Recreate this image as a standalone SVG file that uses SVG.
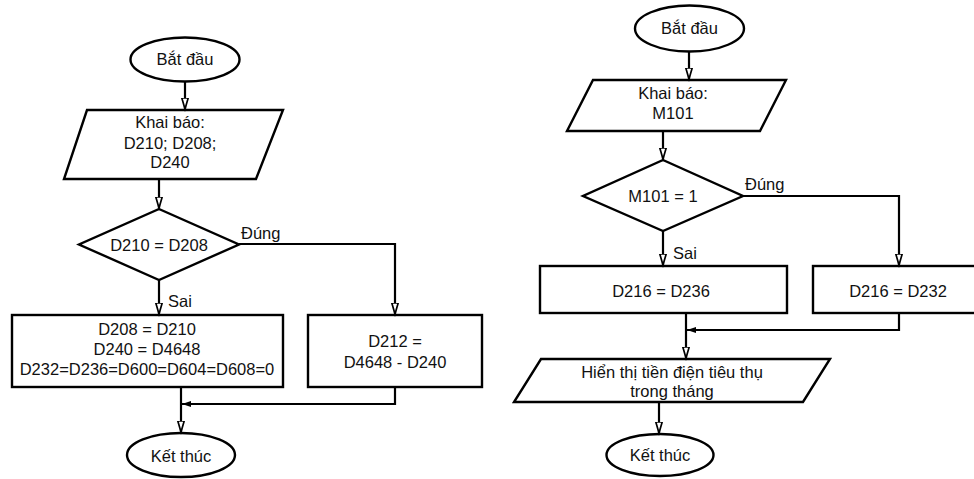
<svg xmlns="http://www.w3.org/2000/svg" width="974" height="479" viewBox="0 0 974 479">
  <style>
    .shape { fill: #ffffff; stroke: #000000; stroke-width: 2.4; }
    .wire { fill: none; stroke: #000000; stroke-width: 2.2; }
    .down { marker-end: url(#openHead); }
    .join { marker-end: url(#solidHead); }
    text { font-family: "Liberation Sans", Arial, sans-serif; font-size: 16.5px; fill: #111111; }
    .c { text-anchor: middle; }
  </style>
  <defs>
    <marker id="openHead" markerUnits="userSpaceOnUse" markerWidth="14" markerHeight="10" refX="11" refY="4" orient="auto">
      <path d="M0,0.8 L11,4 L0,7.2 z" fill="#ffffff" stroke="#000000" stroke-width="1.7"/>
    </marker>
    <marker id="solidHead" markerUnits="userSpaceOnUse" markerWidth="12" markerHeight="8" refX="9" refY="3.5" orient="auto">
      <path d="M0,0.5 L9,3.5 L0,6.5 z" fill="#000000"/>
    </marker>
  </defs>

  <rect width="974" height="479" fill="#ffffff"/>

  <!-- Left flowchart: nodes -->
  <g id="l-start">
    <ellipse class="shape" cx="185" cy="59.5" rx="54.5" ry="22"/>
    <text class="c" x="185" y="65">Bắt đầu</text>
  </g>
  <g id="l-declare">
    <polygon class="shape" points="87,110 283,110 256,179 64,179"/>
    <text class="c" x="170" y="128">Khai báo:</text>
    <text class="c" x="170" y="149">D210; D208;</text>
    <text class="c" x="170" y="168">D240</text>
  </g>
  <g id="l-decision">
    <polygon class="shape" points="159,209 239,244.5 159,280 79,244.5"/>
    <text class="c" x="159" y="251">D210 = D208</text>
  </g>
  <g id="l-false">
    <rect class="shape" x="12" y="315" width="271" height="72"/>
    <text class="c" x="147" y="335">D208 = D210</text>
    <text class="c" x="147" y="355">D240 = D4648</text>
    <text class="c" x="147" y="375">D232=D236=D600=D604=D608=0</text>
  </g>
  <g id="l-true">
    <rect class="shape" x="308" y="315" width="174" height="72"/>
    <text class="c" x="395" y="347">D212 =</text>
    <text class="c" x="395" y="368">D4648 - D240</text>
  </g>
  <g id="l-end">
    <ellipse class="shape" cx="181" cy="455" rx="54" ry="22"/>
    <text class="c" x="181" y="462">Kết thúc</text>
  </g>

  <!-- Right flowchart: nodes -->
  <g id="r-start">
    <ellipse class="shape" cx="689.5" cy="28.5" rx="54.5" ry="23"/>
    <text class="c" x="689.5" y="34">Bắt đầu</text>
  </g>
  <g id="r-declare">
    <polygon class="shape" points="593,80 786,80 760,131 567,131"/>
    <text class="c" x="673" y="99">Khai báo:</text>
    <text class="c" x="673" y="119">M101</text>
  </g>
  <g id="r-decision">
    <polygon class="shape" points="663,160 743,196 663,231 583,196"/>
    <text class="c" x="663" y="202">M101 = 1</text>
  </g>
  <g id="r-false">
    <rect class="shape" x="540" y="266" width="247" height="47"/>
    <text class="c" x="661" y="297">D216 = D236</text>
  </g>
  <g id="r-true">
    <rect class="shape" x="813" y="266" width="175" height="47"/>
    <text class="c" x="898" y="297">D216 = D232</text>
  </g>
  <g id="r-display">
    <polygon class="shape" points="541,359 830,359 803,402 514,402"/>
    <text class="c" x="672" y="378">Hiển thị tiền điện tiêu thụ</text>
    <text class="c" x="672" y="397">trong tháng</text>
  </g>
  <g id="r-end">
    <ellipse class="shape" cx="660" cy="455" rx="53.5" ry="21"/>
    <text class="c" x="660" y="461">Kết thúc</text>
  </g>

  <!-- Connectors -->
  <g id="connectors">
    <!-- left -->
    <path class="wire down" d="M185,82 V109"/>
    <path class="wire down" d="M159,179 V208"/>
    <path class="wire down" d="M159,280 V314"/>
    <path class="wire down" d="M239,244 H395 V314"/>
    <path class="wire join" d="M395,387 V404 H182"/>
    <path class="wire down" d="M181,387 V432"/>
    <text x="241" y="239">Đúng</text>
    <text x="168" y="307">Sai</text>
    <!-- right -->
    <path class="wire down" d="M689,52 V79"/>
    <path class="wire down" d="M663,131 V159"/>
    <path class="wire down" d="M663,231 V265"/>
    <path class="wire down" d="M743,196 H899 V265"/>
    <path class="wire join" d="M899,313 V330 H687"/>
    <path class="wire down" d="M686,313 V358"/>
    <path class="wire down" d="M659,402 V433"/>
    <text x="745" y="190">Đúng</text>
    <text x="673" y="259">Sai</text>
  </g>
</svg>
